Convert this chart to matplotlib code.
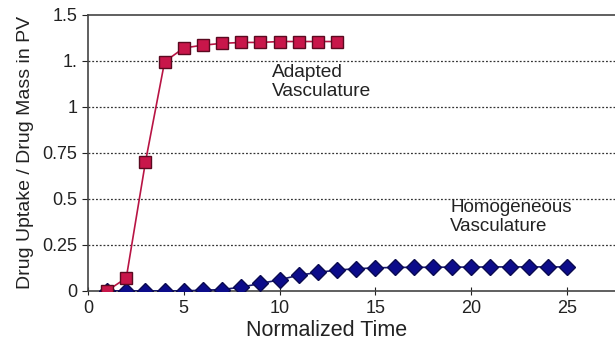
import matplotlib.pyplot as plt
import numpy as np

plt.rcParams['font.family'] = ['Liberation Sans', 'DejaVu Sans']

# adapted vasculature (red squares)
t_adapted = [1, 2, 3, 4, 5, 6, 7, 8, 9, 10, 11, 12, 13]
adapted = [0.0, 0.07, 0.70, 1.245, 1.32, 1.335, 1.345, 1.35, 1.35, 1.355, 1.355, 1.355, 1.355]

# homogeneous vasculature (blue diamonds)
t_homog = list(range(1, 26))
homog = [0, 0, 0, 0, 0, 0.003, 0.007, 0.02, 0.04, 0.06, 0.085, 0.1, 0.113, 0.12,
         0.125, 0.127, 0.128, 0.128, 0.129, 0.129, 0.13, 0.13, 0.13, 0.13, 0.13]

yticks = [0, 0.25, 0.5, 0.75, 1, 1.25, 1.5]
ytick_labels = ["0", "0.25", "0.5", "0.75", "1", "1.", "1.5"]
xticks = [0, 5, 10, 15, 20, 25]

fig = plt.figure(figsize=(6.15, 3.45), dpi=100)
ax = fig.add_axes([0.143, 0.157, 0.857, 0.80])

for y in yticks[1:-1]:
    ax.axhline(y, color='#333333', lw=0.9, ls=(0, (1.5, 1.5)), zorder=0)

ax.plot(t_homog, homog, color='#1a1a6e', lw=1.2, marker='D', markersize=8.5,
        markerfacecolor='#0c0c8a', markeredgecolor='#0a0a50', zorder=3)
ax.plot(t_adapted, adapted, color='#b81444', lw=1.2, marker='s', markersize=8,
        markerfacecolor='#c8164a', markeredgecolor='#5a0a20', zorder=4)

ax.text(9.6, 1.235, "Adapted\nVasculature", fontsize=13.8, color='#222222', va='top', ha='left', linespacing=1.2)
ax.text(18.9, 0.5, "Homogeneous\nVasculature", fontsize=13.5, color='#222222', va='top', ha='left', linespacing=1.2)

ax.set_xlim(0, 27.5)
ax.set_ylim(0, 1.5)
ax.set_xticks(xticks)
ax.set_yticks(yticks)
ax.set_yticklabels(ytick_labels)
ax.tick_params(axis='both', labelsize=13, colors='#222222', length=4, direction='out')
ax.tick_params(axis='x', direction='inout', length=6)

for s in ['left', 'bottom', 'top']:
    ax.spines[s].set_color('#444444')
    ax.spines[s].set_linewidth(1.2)
ax.spines['right'].set_visible(False)

ax.set_xlabel("Normalized Time", fontsize=15.5, color='#222222')
ax.xaxis.set_label_coords(0.453, -0.105)
ax.set_ylabel("Drug Uptake / Drug Mass in PV", fontsize=14, color='#222222', labelpad=6)

fig.savefig("out.png", dpi=100)
